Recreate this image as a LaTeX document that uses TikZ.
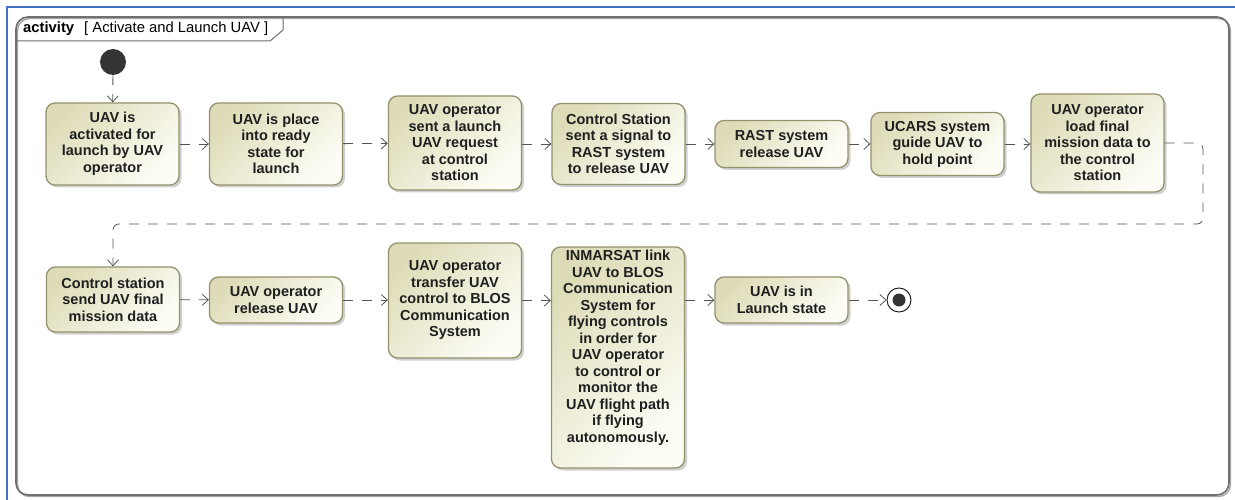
\documentclass[tikz,border=0pt]{standalone}
\usepackage{fontspec}
\setmainfont{Liberation Sans}
\usetikzlibrary{arrows.meta,shadows}

\definecolor{actfillA}{RGB}{222,220,184}
\definecolor{actfillB}{RGB}{253,253,246}
\definecolor{actline}{RGB}{148,146,108}
\definecolor{flowline}{RGB}{85,85,85}
\definecolor{framegray}{RGB}{112,112,112}
\definecolor{winblue}{RGB}{68,114,196}
\definecolor{initgray}{RGB}{52,52,52}

\newcommand\actfont{\bfseries\fontsize{14.5}{16.5}\selectfont}

\tikzset{
  action/.style={draw=actline, line width=1.3pt, rounded corners=9pt,
    top color=actfillA, bottom color=actfillB, shading angle=45,
    align=center, font=\actfont, text=black!88, inner sep=2pt,
    minimum width=133pt,
    drop shadow={shadow xshift=2.5pt, shadow yshift=-2.5pt, opacity=0.3, fill=black!60}},
  flow/.style={draw=flowline, line width=0.8pt, dash pattern=on 10pt off 9pt,
    -{Straight Barb[length=6pt,width=11pt,line width=0.8pt]}},
}

\begin{document}
\begin{tikzpicture}[x=1pt,y=-1pt]
  \useasboundingbox (0,0) rectangle (1235,500);
  \fill[white] (0,0) rectangle (1235,500);

  % window edge
  \draw[winblue, line width=2pt] (7,500) -- (7,7) -- (1235,7);

  % activity frame, with a soft shadow on its right and bottom edges
  \draw[black!35, line width=1.4pt, rounded corners=12pt] (17.5,18.5) rectangle (1230.5,496.5);
  \draw[framegray, line width=1.6pt, rounded corners=12pt] (16,17) rectangle (1229,495);
  \draw[framegray, line width=1pt] (16,41) -- (270,41) -- (283,30) -- (283,17);
  \node[anchor=base west, inner sep=0, font=\fontsize{14.8}{16}\selectfont] (hdr) at (23,33)
    {\textbf{activity}\hspace{10pt}[ Activate and Launch UAV ]};

  % initial node
  \node[circle, fill=initgray, minimum size=26pt, inner sep=0] (init) at (113,62) {};

  % first row of actions
  \node[action, minimum height=82pt] (n1) at (112.5,144) {UAV is\\activated for\\launch by UAV\\operator};
  \node[action, minimum height=82pt] (n2) at (276,144) {UAV is place\\into ready\\state for\\launch};
  \node[action, minimum height=94pt] (n3) at (455,143) {UAV operator\\sent a launch\\UAV request\\at control\\station};
  \node[action, minimum height=81pt] (n4) at (618.5,144) {Control Station\\sent a signal to\\RAST system\\to release UAV};
  \node[action, minimum height=47pt] (n5) at (781.5,144) {RAST system\\release UAV};
  \node[action, minimum height=63pt] (n6) at (937.5,144) {UCARS system\\guide UAV to\\hold point};
  \node[action, minimum height=98pt] (n7) at (1097.5,143) {UAV operator\\load final\\mission data to\\the control\\station};

  % second row of actions
  \node[action, minimum height=65pt] (n8) at (113,299.5) {Control station\\send UAV final\\mission data};
  \node[action, minimum height=46pt] (n9) at (276,300) {UAV operator\\release UAV};
  \node[action, minimum height=115pt] (n10) at (455,300.5) {UAV operator\\transfer UAV\\control to BLOS\\Communication\\System};
  \node[action, minimum height=221pt] (n11) at (618,357.5) {INMARSAT link\\UAV to BLOS\\Communication\\System for\\flying controls\\in order for\\UAV operator\\to control or\\monitor the\\UAV flight path\\if flying\\autonomously.\\[6pt]};
  \node[action, minimum height=46pt] (n12) at (781.5,300) {UAV is in\\Launch state};

  % final node
  \node[circle, draw=black!85, line width=1pt, fill=white, minimum size=24pt, inner sep=0] (fin) at (899,300) {};
  \node[circle, fill=initgray, minimum size=13pt, inner sep=0] (findot) at (fin.center) {};

  % control flows
  \draw[flow] (init) -- (n1);
  \draw[flow] (n1) -- (n2);
  \draw[flow] (n2) -- (n3);
  \draw[flow] (n3.east |- n4.west) -- (n4.west);
  \draw[flow] (n4) -- (n5);
  \draw[flow] (n5) -- (n6);
  \draw[flow] (n6.east) -- (n6.east -| n7.west);

  \coordinate (loopR) at (1203,224);
  \coordinate (loopL) at (113,224);
  \draw[flow, rounded corners=6pt] (n7.east) -| (loopR) -- (loopL) -- (n8.north);

  \draw[flow] (n8) -- (n9);
  \draw[flow] (n9.east) -- (n9.east -| n10.west);
  \draw[flow] (n10.east) -- (n10.east -| n11.west);
  \draw[flow] (n11.east |- n12.west) -- (n12.west);
  \draw[flow] (n12) -- (fin);
\end{tikzpicture}
\end{document}
